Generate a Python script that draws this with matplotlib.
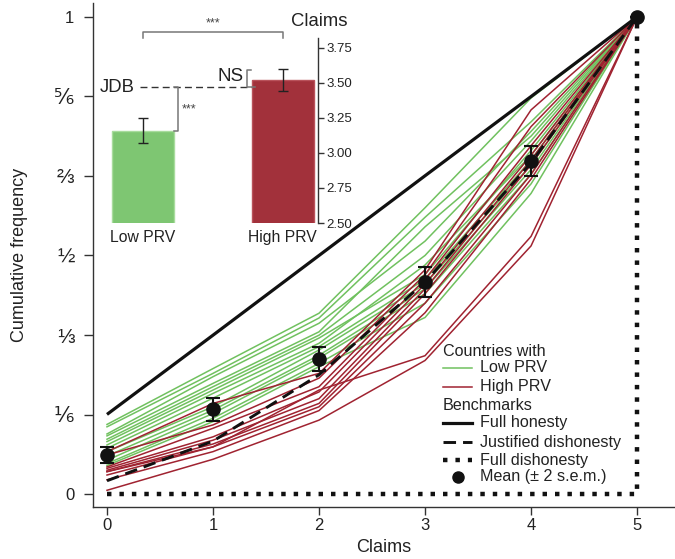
import matplotlib
matplotlib.use('Agg')
import matplotlib.pyplot as plt
from matplotlib.lines import Line2D

plt.rcParams['font.family'] = ['Liberation Sans', 'DejaVu Sans']

# ---------------- data ----------------
claims = [0, 1, 2, 3, 4, 5]

low_prv = [
    [0.146, 0.263, 0.379, 0.600, 0.830, 1.0],
    [0.141, 0.253, 0.369, 0.580, 0.780, 1.0],
    [0.126, 0.246, 0.358, 0.530, 0.760, 1.0],
    [0.122, 0.232, 0.340, 0.560, 0.750, 1.0],
    [0.115, 0.225, 0.333, 0.500, 0.740, 1.0],
    [0.110, 0.218, 0.327, 0.460, 0.720, 1.0],
    [0.103, 0.211, 0.316, 0.480, 0.710, 1.0],
    [0.096, 0.201, 0.309, 0.450, 0.700, 1.0],
    [0.089, 0.183, 0.302, 0.440, 0.690, 1.0],
    [0.080, 0.176, 0.291, 0.430, 0.680, 1.0],
    [0.071, 0.169, 0.285, 0.420, 0.670, 1.0],
    [0.064, 0.159, 0.274, 0.400, 0.650, 1.0],
    [0.060, 0.152, 0.267, 0.370, 0.630, 1.0],
]

high_prv = [
    [0.089, 0.190, 0.253, 0.470, 0.805, 1.0],
    [0.082, 0.145, 0.243, 0.460, 0.770, 1.0],
    [0.057, 0.138, 0.225, 0.450, 0.730, 1.0],
    [0.054, 0.120, 0.214, 0.440, 0.710, 1.0],
    [0.050, 0.113, 0.200, 0.430, 0.700, 1.0],
    [0.047, 0.105, 0.190, 0.420, 0.690, 1.0],
    [0.040, 0.099, 0.183, 0.400, 0.670, 1.0],
    [0.030, 0.089, 0.175, 0.380, 0.660, 1.0],
    [0.047, 0.099, 0.218, 0.290, 0.540, 1.0],
    [0.008, 0.073, 0.155, 0.280, 0.520, 1.0],
]

full_honesty = [0.167, 0.333, 0.500, 0.667, 0.833, 1.0]
justified_dis = [0.028, 0.111, 0.250, 0.444, 0.694, 1.0]
full_dishonesty = [0.0, 0.0, 0.0, 0.0, 0.0, 1.0]

mean_cf = [0.082, 0.178, 0.283, 0.444, 0.698, 1.0]
mean_err = [0.016, 0.024, 0.025, 0.031, 0.031, 0.0]

ytick_vals = [0, 1/6, 1/3, 1/2, 2/3, 5/6, 1]
ytick_labels = ['0', '⅙', '⅓', '½', '⅔', '⅚', '1']

# inset
groups = ['Low PRV', 'High PRV']
group_claims = [3.16, 3.52]
group_err = [0.09, 0.08]
jdb_claims = 3.47
inset_ticks = [2.50, 2.75, 3.00, 3.25, 3.50, 3.75]

GREEN = '#70c15f'
RED = '#a02331'
BAR_GREEN = '#7ec672'
BAR_RED = '#a2313b'
TXT = '#222222'
SPN = '#333333'

W, H = 675, 559
fig = plt.figure(figsize=(W / 100, H / 100), dpi=100)


def P(px, py):
    return (px / W, 1 - py / H)


ax = fig.add_axes([93 / W, 1 - 507 / H, (W - 93) / W, 504 / H])
ax.set_xlim(-0.132, 5.358)
ax.set_ylim(-0.027, 1.029)
for s in ['top', 'right']:
    ax.spines[s].set_visible(False)
for s in ['left', 'bottom']:
    ax.spines[s].set_color(SPN)
    ax.spines[s].set_linewidth(1.0)

for row in low_prv:
    ax.plot(claims, row, color=GREEN, lw=1.1, zorder=2)
for row in high_prv:
    ax.plot(claims, row, color=RED, lw=1.1, zorder=2)

ax.plot(claims, full_honesty, color='#111111', lw=2.3, zorder=3,
        solid_capstyle='butt')
ax.plot(claims, justified_dis, color='#111111', lw=2.1, zorder=3,
        dashes=(4.3, 2.4), dash_capstyle='butt')
ax.plot(claims, full_dishonesty, color='#111111', lw=3.2, zorder=3,
        drawstyle='steps-post', dashes=(1.0, 1.8), dash_capstyle='butt')

ax.errorbar(claims, mean_cf, yerr=mean_err, fmt='o', color='#111111',
            ms=9.5, elinewidth=1.5, capsize=5, capthick=1.5, zorder=5)

ax.set_xticks(claims)
ax.set_xticklabels([str(c) for c in claims])
ax.set_yticks(ytick_vals)
ax.set_yticklabels(ytick_labels)
ax.tick_params(axis='x', direction='out', length=6, width=1, colors=SPN,
               labelcolor=TXT, labelsize=12, pad=2)
ax.tick_params(axis='y', direction='out', length=6.5, width=1, colors=SPN,
               labelcolor=TXT, labelsize=12, pad=7)
for lab in ax.get_yticklabels():
    if lab.get_text() not in ('0', '1'):
        lab.set_fontsize(15)
ax.set_xlabel('Claims', fontsize=13, color=TXT, labelpad=4)
ax.set_ylabel('Cumulative frequency', fontsize=13, color=TXT, labelpad=19)

# ---------------- legend (manual) ----------------
lfs = 11.6
fig.text(*P(443, 352), 'Countries with', fontsize=lfs, color=TXT, va='center')
fig.text(*P(480, 368), 'Low PRV', fontsize=lfs, color=TXT, va='center')
fig.text(*P(480, 387), 'High PRV', fontsize=lfs, color=TXT, va='center')
fig.text(*P(443, 406), 'Benchmarks', fontsize=lfs, color=TXT, va='center')
fig.text(*P(480, 423), 'Full honesty', fontsize=lfs, color=TXT, va='center')
fig.text(*P(480, 442), 'Justified dishonesty', fontsize=lfs, color=TXT, va='center')
fig.text(*P(480, 460), 'Full dishonesty', fontsize=lfs, color=TXT, va='center')
fig.text(*P(480, 477), 'Mean (± 2 s.e.m.)', fontsize=lfs, color=TXT, va='center')

hx = [443 / W, 472 / W]


def hy(py):
    v = 1 - py / H
    return [v, v]


fig.add_artist(Line2D(hx, hy(368), color=GREEN, lw=1.1))
fig.add_artist(Line2D(hx, hy(387), color=RED, lw=1.1))
fig.add_artist(Line2D(hx, hy(423), color='#111111', lw=2.3))
fig.add_artist(Line2D(hx, hy(442), color='#111111', lw=2.1, dashes=(4.3, 2.4)))
fig.add_artist(Line2D(hx, hy(460), color='#111111', lw=3.2, dashes=(1.0, 1.8)))
fig.add_artist(Line2D([458 / W], [1 - 477 / H], marker='o', ms=8,
                      color='#111111', lw=0))

# ---------------- inset ----------------
axi = fig.add_axes([105 / W, 1 - 223 / H, 213 / W, 185 / H])
axi.patch.set_alpha(0)
axi.set_xlim(-0.272, 1.254)
axi.set_ylim(2.5, 3.821)
xpos = [0, 1]
axi.bar(xpos, group_claims, width=0.444, color=[BAR_GREEN, BAR_RED],
        edgecolor=['#a8dc9d', '#b9525b'], linewidth=1.0, zorder=2)
axi.errorbar(xpos, group_claims, yerr=group_err, fmt='none', ecolor='#222222',
             elinewidth=1.0, capsize=3.5, capthick=1.0, zorder=3)
axi.axhline(jdb_claims, xmin=(140 - 105) / 213, xmax=1, color='#333333',
            lw=1.0, dashes=(5, 3), zorder=1)
axi.text(-0.06, jdb_claims, 'JDB', ha='right', va='center', fontsize=13.3,
         color=TXT)

for s in ['top', 'left', 'bottom']:
    axi.spines[s].set_visible(False)
axi.spines['right'].set_color(SPN)
axi.spines['right'].set_linewidth(1.0)
axi.yaxis.tick_right()
axi.set_yticks(inset_ticks)
axi.set_yticklabels(['%.2f' % t for t in inset_ticks])
axi.tick_params(axis='y', direction='out', length=4, width=1, colors=SPN,
                labelcolor=TXT, labelsize=9.5, pad=2)
axi.set_xticks(xpos)
axi.set_xticklabels(groups)
axi.tick_params(axis='x', length=0, labelsize=11.3, labelcolor=TXT, pad=5)
fig.text(*P(319, 21), 'Claims', fontsize=13.3, color=TXT, ha='center',
         va='center')

GR = '#777777'
# top bracket (low vs high)
axi.plot([0, 0, 1, 1], [3.821, 3.864, 3.864, 3.821], color=GR, lw=1.1,
         clip_on=False)
axi.text(0.5, 3.88, '***', ha='center', va='bottom', fontsize=9, color='#444444')
# JDB vs low bracket
axi.plot([0.222, 0.251, 0.251, 0.222],
         [jdb_claims, jdb_claims, group_claims[0], group_claims[0]],
         color=GR, lw=1.1)
axi.text(0.275, 3.31, '***', ha='left', va='center', fontsize=9, color='#444444')
# NS bracket
axi.plot([0.775, 0.746, 0.746, 0.80],
         [3.593, 3.593, jdb_claims, jdb_claims], color=GR, lw=1.1, zorder=4)
axi.text(0.72, 3.545, 'NS', ha='right', va='center', fontsize=13.5, color=TXT)

fig.savefig('out.png', dpi=100)
